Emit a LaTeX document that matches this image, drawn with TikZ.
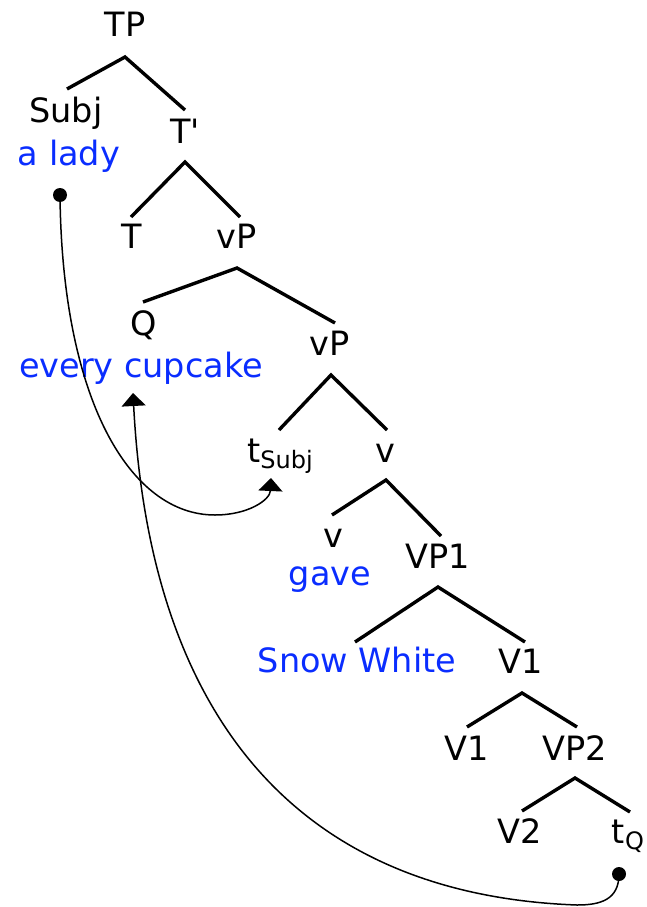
\documentclass[tikz,border=0pt]{standalone}
\usepackage{fontspec}
\newfontfamily\treefont{DejaVu Sans}
\usetikzlibrary{arrows.meta}
\definecolor{lexblue}{RGB}{10,45,255}
\begin{document}
\begin{tikzpicture}[x=1pt,y=-1pt,
  lbl/.style={anchor=base,inner sep=0pt,font=\treefont\fontsize{33.5}{33.5}\selectfont},
  lex/.style={lbl,text=lexblue},
  branch/.style={line width=3.4pt},
  move/.style={line width=1.5pt,-{Triangle[width=24pt,length=13pt]}},
  dotmark/.style={circle,fill=black,inner sep=0pt,minimum size=14pt}]
\useasboundingbox (0,0) rectangle (646,907);
% labels
\node[lbl] (TP) at (125,37) {TP};
\node[lbl] (Subj) at (66,122) {Subj};
\node[lex] (alady) at (69,165) {a lady};
\node[lbl] (Tbar) at (185,143) {T'};
\node[lbl] (T) at (132,248) {T};
\node[lbl] (vP) at (237,248) {vP};
\node[lbl] (Q) at (144,335) {Q};
\node[lex] (cupcake) at (141,377) {every cupcake};
\node[lbl] (vPtwo) at (330,355) {vP};
\node[lbl] (tSubj) at (280,462) {t\raisebox{-6pt}{\fontsize{24}{24}\selectfont Subj}};
\node[lbl] (vbar) at (385,462) {v};
\node[lbl] (v) at (333,547) {v};
\node[lex] (gave) at (330,585) {gave};
\node[lbl] (VPone) at (438,568) {VP1};
\node[lex] (snow) at (357,672) {Snow White};
\node[lbl] (Vonea) at (521,673) {V1};
\node[lbl] (Voneb) at (467,760) {V1};
\node[lbl] (VPtwo) at (575,760) {VP2};
\node[lbl] (Vtwo) at (520,843) {V2};
\node[lbl] (tQ) at (628,843) {t\raisebox{-6pt}{\fontsize{24}{24}\selectfont Q}};
% branch points
\coordinate (a1) at (125,57);  \coordinate (a1l) at (67,89);   \coordinate (a1r) at (185,110);
\coordinate (a2) at (185,162); \coordinate (a2l) at (131,217); \coordinate (a2r) at (240,217);
\coordinate (a3) at (237,268); \coordinate (a3l) at (143,302); \coordinate (a3r) at (335,323);
\coordinate (a4) at (331,375); \coordinate (a4l) at (279,430); \coordinate (a4r) at (387,430);
\coordinate (a5) at (386,480); \coordinate (a5l) at (332,515); \coordinate (a5r) at (441,536);
\coordinate (a6) at (438,587); \coordinate (a6l) at (355,642); \coordinate (a6r) at (525,642);
\coordinate (a7) at (522,693); \coordinate (a7l) at (467,727); \coordinate (a7r) at (577,727);
\coordinate (a8) at (575,778); \coordinate (a8l) at (522,811); \coordinate (a8r) at (630,812);
\foreach \n in {a1,a2,a3,a4,a5,a6,a7,a8}
  \draw[branch] (\n l) -- (\n) -- (\n r);
% movement arrows
\node[dotmark] (d1) at (60,195) {};
\node[dotmark] (d2) at (619,874) {};
\coordinate (h1) at (271,478);
\coordinate (h2) at (133,393);
\draw[move] (d1.center) .. controls (62,400) and (130,515) .. (215,515)
  .. controls (248,515) and (270,500) .. (h1);
\draw[move] (d2.center) .. controls (619,900) and (600,905) .. (577,905)
  .. controls (300,895) and (150,720) .. (h2);
\end{tikzpicture}
\end{document}
